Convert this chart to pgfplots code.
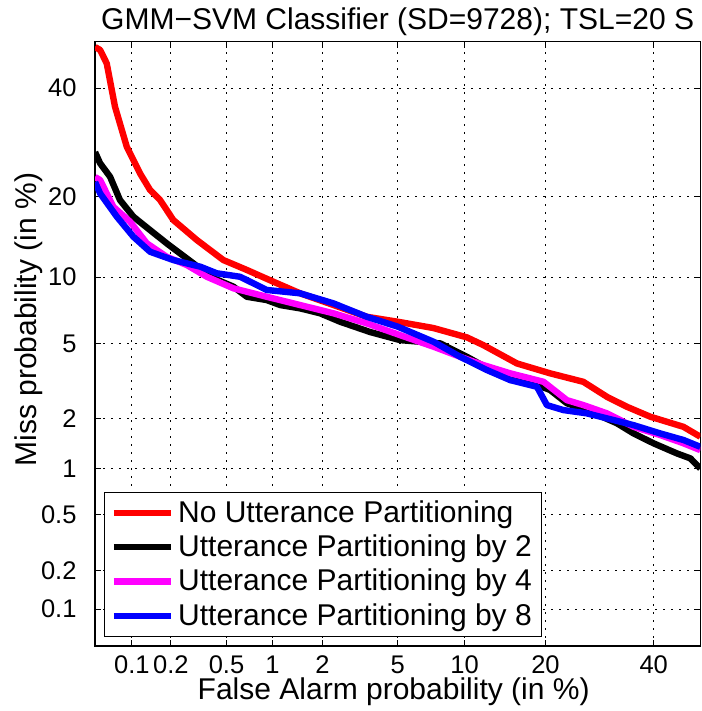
\documentclass[border=0pt]{standalone}
\usepackage{pgfplots}
\pgfplotsset{compat=1.18}
\usepackage{fontspec}
\setmainfont{Liberation Sans}

% DET curves: both axes hold normal deviates (probit) of the probabilities,
% ticks are labelled with the probabilities in percent.
\newcommand{\bigfont}{\fontsize{15}{18}\selectfont}
\newcommand{\tickfont}{\fontsize{12.75}{15}\selectfont}
\definecolor{mlmagenta}{RGB}{255,0,255}
\definecolor{mlred}{RGB}{255,0,0}
\definecolor{mlblue}{RGB}{0,0,255}

\begin{document}
\begin{tikzpicture}
\begin{axis}[
  name=det,
  scale only axis,
  width=302.5pt, height=302pt,
  xmin=-3.2905, xmax=0, ymin=-3.2905, ymax=0,
  xtick={-3.0902,-2.8782,-2.5758,-2.3263,-2.0537,-1.6449,-1.2816,-0.8416,-0.2533},
  xticklabels={0.1,0.2,0.5,1,2,5,10,20,40},
  ytick={-3.0902,-2.8782,-2.5758,-2.3263,-2.0537,-1.6449,-1.2816,-0.8416,-0.2533},
  yticklabels={0.1,0.2,0.5,1,2,5,10,20,40},
  tick align=inside,
  xtick pos=both, ytick pos=both,
  major tick length=3pt,
  tick style={black, line width=0.5pt},
  axis line style={black, line width=0.6pt},
  grid=major,
  major grid style={black, line width=0.5pt, dash pattern=on 1pt off 3pt},
  ticklabel style={font=\tickfont},
  xticklabel style={yshift=-1.5pt},
  yticklabel style={xshift=-5.75pt},
  title={GMM−SVM Classifier (SD=9728); TSL=20 S},
  title style={at={(axis description cs:0.5,1)}, anchor=base, yshift=-0.15pt, font=\bigfont},
  xlabel={False Alarm probability (in \%)},
  xlabel style={at={(axis description cs:0.4934,0)}, anchor=base, yshift=-27pt, font=\bigfont},
  ylabel={Miss probability (in \%)},
  ylabel style={at={(axis description cs:-0.0962,0.54)}, anchor=base, font=\bigfont},
  legend style={at={(0.015,0.015)}, anchor=south west, draw=black, line width=0.6pt,
    fill=white, font=\bigfont, inner xsep=3pt, inner ysep=2pt, row sep=0.8pt,
    nodes={inner sep=2pt, text depth=0.15em}},
  legend cell align=left,
  legend image code/.code={\draw[#1, line width=3.2pt] (0pt,0pt) -- (28.5pt,0pt);},
  every axis plot/.append style={line width=3.2pt, line join=round},
]
\addplot[mlred] coordinates {
(-3.2905,-0.029) (-3.263,-0.045) (-3.227,-0.118) (-3.182,-0.354) (-3.118,-0.572)
(-3.046,-0.717) (-2.991,-0.808) (-2.937,-0.862) (-2.865,-0.971) (-2.737,-1.080)
(-2.593,-1.189) (-2.465,-1.243) (-2.321,-1.307) (-2.176,-1.370) (-1.994,-1.434)
(-1.813,-1.498) (-1.644,-1.525) (-1.452,-1.559) (-1.269,-1.610) (-1.180,-1.652)
(-0.997,-1.752) (-0.816,-1.806) (-0.636,-1.852) (-0.507,-1.934) (-0.399,-1.988)
(-0.272,-2.042) (-0.092,-2.097) (0,-2.151)
};
\addlegendentry{No Utterance Partitioning}
\addplot[black] coordinates {
(-3.2905,-0.601) (-3.263,-0.662) (-3.209,-0.735) (-3.155,-0.862) (-3.082,-0.953)
(-2.991,-1.026) (-2.901,-1.098) (-2.828,-1.153) (-2.756,-1.207) (-2.665,-1.280)
(-2.538,-1.334) (-2.465,-1.389) (-2.357,-1.407) (-2.284,-1.434) (-2.176,-1.452)
(-2.067,-1.479) (-1.958,-1.525) (-1.795,-1.581) (-1.632,-1.625) (-1.414,-1.643)
(-1.269,-1.716) (-1.088,-1.815) (-0.907,-1.861) (-0.816,-1.897) (-0.725,-1.969)
(-0.616,-2.006) (-0.453,-2.078) (-0.363,-2.133) (-0.254,-2.187) (-0.127,-2.242)
(-0.054,-2.269) (0,-2.324)
};
\addlegendentry{Utterance Partitioning by 2}
\addplot[mlmagenta] coordinates {
(-3.2905,-0.737) (-3.263,-0.753) (-3.191,-0.899) (-3.100,-0.980) (-3.009,-1.098)
(-2.901,-1.171) (-2.792,-1.216) (-2.683,-1.280) (-2.538,-1.343) (-2.357,-1.389)
(-2.212,-1.425) (-1.994,-1.479) (-1.813,-1.534) (-1.632,-1.598) (-1.450,-1.661)
(-1.305,-1.716) (-1.179,-1.761) (-1.033,-1.806) (-0.852,-1.852) (-0.725,-1.952)
(-0.635,-1.979) (-0.507,-2.024) (-0.363,-2.097) (-0.218,-2.142) (-0.091,-2.187)
(0,-2.224)
};
\addlegendentry{Utterance Partitioning by 4}
\addplot[mlblue] coordinates {
(-3.2905,-0.764) (-3.263,-0.826) (-3.172,-0.953) (-3.082,-1.062) (-2.991,-1.144)
(-2.865,-1.189) (-2.719,-1.225) (-2.629,-1.261) (-2.502,-1.280) (-2.357,-1.352)
(-2.176,-1.370) (-1.994,-1.425) (-1.813,-1.498) (-1.644,-1.552) (-1.450,-1.634)
(-1.305,-1.716) (-1.160,-1.788) (-1.033,-1.843) (-0.888,-1.879) (-0.834,-1.979)
(-0.744,-2.006) (-0.616,-2.024) (-0.472,-2.060) (-0.363,-2.088) (-0.218,-2.133)
(-0.091,-2.169) (0,-2.206)
};
\addlegendentry{Utterance Partitioning by 8}
\end{axis}
\pgfresetboundingbox
\path[use as bounding box] ([shift={(-47.5pt,-32.5pt)}]det.south west)
  rectangle ([shift={(0.5pt,20.85pt)}]det.north east);
\end{tikzpicture}
\end{document}
